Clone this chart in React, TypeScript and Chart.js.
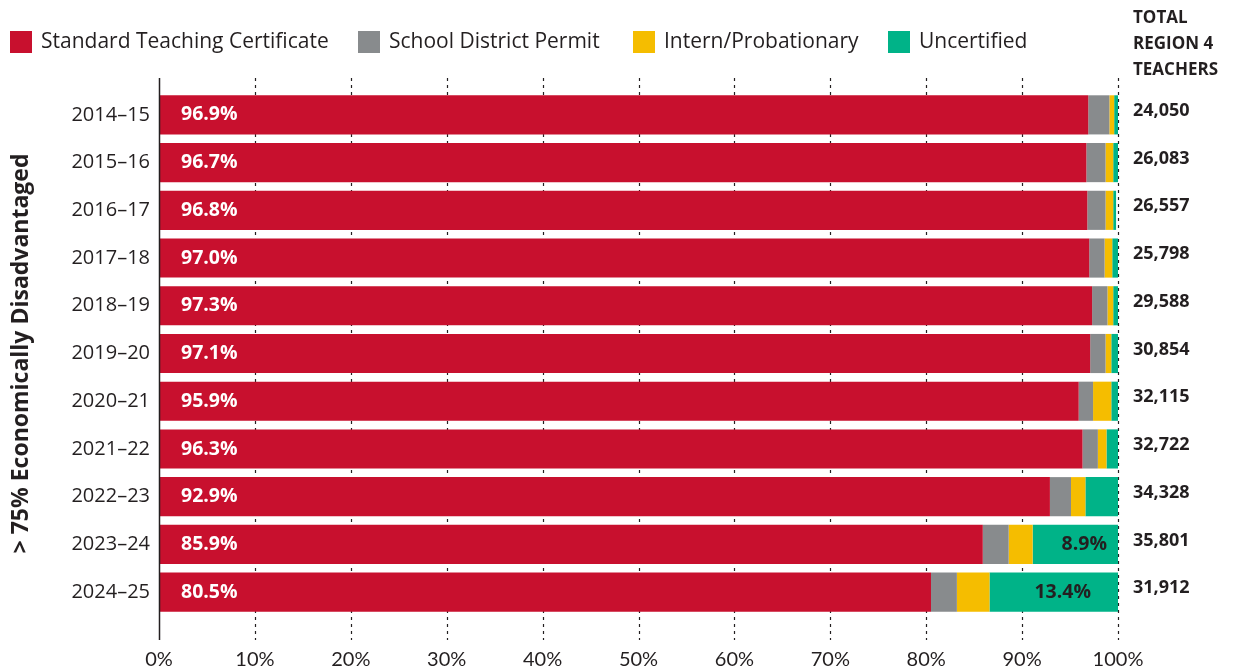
import React, { useEffect, useRef } from "react";
import { Chart, registerables } from "chart.js";
Chart.register(...registerables);

const years = ["2014–15", "2015–16", "2016–17", "2017–18", "2018–19", "2019–20", "2020–21", "2021–22", "2022–23", "2023–24", "2024–25"];
const standard = [96.9, 96.7, 96.8, 97.0, 97.3, 97.1, 95.9, 96.3, 92.9, 85.9, 80.5];
const permit = [2.2, 2.0, 1.9, 1.6, 1.6, 1.6, 1.5, 1.6, 2.2, 2.7, 2.7];
const intern = [0.5, 0.8, 0.8, 0.8, 0.6, 0.6, 1.9, 0.9, 1.5, 2.5, 3.4];
const uncertified = [0.4, 0.5, 0.3, 0.6, 0.5, 0.7, 0.7, 1.2, 3.4, 8.9, 13.4];
const totals = ["24,050", "26,083", "26,557", "25,798", "29,588", "30,854", "32,115", "32,722", "34,328", "35,801", "31,912"];
const xTicks = [0, 10, 20, 30, 40, 50, 60, 70, 80, 90, 100];
const seriesNames = ["Standard Teaching Certificate", "School District Permit", "Intern/Probationary", "Uncertified"];
const seriesColors = ["#C8102E", "#888B8D", "#F5BD00", "#00B388"];
const totalHeader = ["TOTAL", "REGION 4", "TEACHERS"];
const axisTitle = "> 75% Economically Disadvantaged";

const FONT = '"Open Sans", Lato, sans-serif';
const FONT2 = 'Lato, "Open Sans", sans-serif';
const INK = "#231f20";

const overlay = {
  id: "overlay",
  beforeDatasetsDraw(chart: any) {
    const { ctx, scales } = chart;
    const xs = scales.x;
    ctx.save();
    ctx.strokeStyle = INK;
    ctx.lineWidth = 1.2;
    ctx.setLineDash([3, 4]);
    xTicks.forEach((v) => {
      if (v === 0) return;
      const x = Math.round(xs.getPixelForValue(v)) + 0.5;
      ctx.beginPath();
      ctx.moveTo(x, 78);
      ctx.lineTo(x, 640);
      ctx.stroke();
    });
    ctx.restore();
  },
  afterDatasetsDraw(chart: any) {
    const { ctx, scales } = chart;
    const xs = scales.x;
    ctx.save();
    ctx.strokeStyle = INK;
    ctx.lineWidth = 1.5;
    const x0 = Math.round(xs.getPixelForValue(0)) + 0.5;
    ctx.beginPath();
    ctx.moveTo(x0, 78);
    ctx.lineTo(x0, 640);
    ctx.stroke();

    const m0 = chart.getDatasetMeta(0);
    const m3 = chart.getDatasetMeta(3);
    ctx.textBaseline = "middle";
    ctx.font = `bold 19.5px ${FONT}`;
    m0.data.forEach((bar: any, i: number) => {
      ctx.fillStyle = "#ffffff";
      ctx.textAlign = "left";
      ctx.fillText(standard[i].toFixed(1) + "%", bar.base + 22, bar.y);
    });
    m3.data.forEach((bar: any, i: number) => {
      if (uncertified[i] >= 5) {
        ctx.fillStyle = INK;
        ctx.textAlign = "center";
        ctx.fillText(uncertified[i].toFixed(1) + "%", (bar.base + bar.x) / 2 + 9, bar.y);
      }
    });

    ctx.fillStyle = INK;
    ctx.textAlign = "left";
    ctx.font = `bold 18px ${FONT}`;
    m0.data.forEach((bar: any, i: number) => {
      ctx.fillText(totals[i], 1133, bar.y - 4);
    });
    ctx.font = `bold 17px ${FONT}`;
    totalHeader.forEach((t, i) => {
      ctx.fillText(t, 1133, 18 + i * 26);
    });

    const legendX = [10, 358, 633, 888];
    ctx.font = `21px ${FONT}`;
    seriesNames.forEach((n, i) => {
      ctx.fillStyle = seriesColors[i];
      ctx.fillRect(legendX[i], 31, 22, 22);
      ctx.fillStyle = INK;
      ctx.textAlign = "left";
      ctx.fillText(n, legendX[i] + 31, 42);
    });
    ctx.restore();
  },
};

export default function App() {
  const ref = useRef<HTMLCanvasElement | null>(null);
  useEffect(() => {
    if (!ref.current) return;
    const data = [standard, permit, intern, uncertified];
    const chart = new Chart(ref.current, {
      type: "bar",
      data: {
        labels: years,
        datasets: data.map((d, i) => ({
          label: seriesNames[i],
          data: d,
          backgroundColor: seriesColors[i],
          borderWidth: 0,
          categoryPercentage: 1,
          barPercentage: 0.82,
        })),
      },
      options: {
        indexAxis: "y",
        animation: false,
        responsive: false,
        maintainAspectRatio: false,
        layout: { padding: { top: 91, right: 120, left: 0, bottom: 0 } },
        plugins: { legend: { display: false }, tooltip: { enabled: false } },
        scales: {
          x: {
            stacked: true,
            min: 0,
            max: 100,
            afterBuildTicks: (s: any) => {
              s.ticks = xTicks.map((v) => ({ value: v }));
            },
            afterFit: (s: any) => {
              s.height = 56;
            },
            grid: { display: false, drawTicks: false },
            border: { display: false },
            ticks: {
              padding: 32,
              color: INK,
              font: { family: FONT2, size: 20 },
              callback: (v: any) => v + "%",
            },
          },
          y: {
            stacked: true,
            afterFit: (s: any) => {
              s.width = 159;
            },
            grid: { display: false, drawTicks: false },
            border: { display: false },
            ticks: {
              padding: 9,
              color: INK,
              font: { family: FONT, size: 20 },
            },
            title: {
              display: true,
              text: axisTitle,
              color: INK,
              font: { family: FONT, size: 23, weight: "bold" },
              padding: { top: 8, bottom: 0 },
            },
          },
        },
      },
      plugins: [overlay],
    } as any);
    return () => chart.destroy();
  }, []);
  return (
    <div style={{ position: "fixed", left: 0, top: 0, width: 1238, height: 672, background: "#fff" }}>
      <canvas ref={ref} width={1238} height={672} style={{ width: 1238, height: 672 }} />
    </div>
  );
}
